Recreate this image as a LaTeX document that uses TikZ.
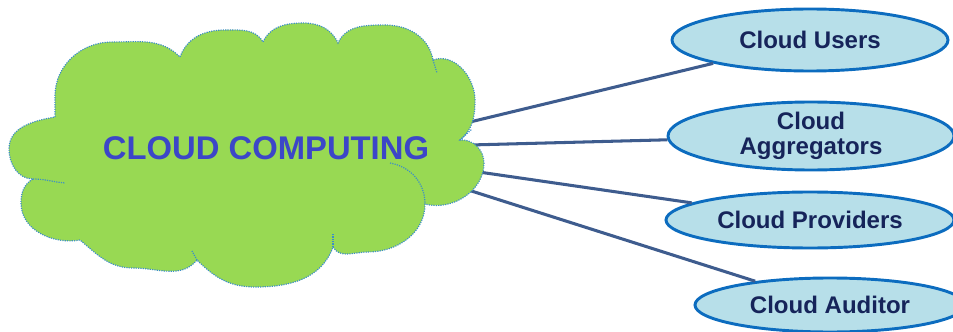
\documentclass[tikz,border=0pt]{standalone}
\usepackage{fontspec}
\setmainfont{Liberation Sans}
\usetikzlibrary{shapes.geometric}
\definecolor{cloudgreen}{HTML}{98D953}
\definecolor{cloudedge}{HTML}{3C8DC8}
\definecolor{cloudtext}{HTML}{3C46C8}
\definecolor{linkcol}{HTML}{3E5C8E}
\definecolor{ovalfill}{HTML}{B7DFE9}
\definecolor{ovaledge}{HTML}{0C6CBF}
\definecolor{ovaltext}{HTML}{16245A}
\tikzset{
  oval/.style={ellipse, draw=ovaledge, fill=ovalfill, line width=2.5pt, inner sep=0pt,
    text=ovaltext, font=\fontsize{20.5}{21}\selectfont\bfseries, align=center},
  link/.style={draw=linkcol, line width=2.6pt},
  cloudline/.style={draw=cloudedge, line width=1pt, densely dotted}
}
\begin{document}
\begin{tikzpicture}[x=0.03cm,y=0.03cm]
\useasboundingbox (0,0) rectangle (953,331);
% connector start points on the cloud edge
\coordinate (c1) at (470,209);
\coordinate (c2) at (470,186);
\coordinate (c3) at (465,161);
\coordinate (c4) at (462,143);
% ellipses (sizes in px * 0.03cm)
\node[oval, minimum width=8.28cm, minimum height=1.86cm] (u) at (810,291) {Cloud Users};
\node[oval, minimum width=8.58cm, minimum height=2.04cm] (ag) at (811,195) {Cloud\\Aggregators};
\node[oval, minimum width=8.64cm, minimum height=1.68cm] (p) at (810,111) {Cloud Providers};
\node[oval, minimum width=8.1cm, minimum height=1.62cm] (au) at (830,26) {Cloud Auditor};
% connectors
\draw[link] (c1) -- (u);
\draw[link] (c2) -- (ag);
\draw[link] (c3) -- (p);
\draw[link] (c4) -- (au);
% cloud
\path[fill=cloudgreen, cloudline]
 (55,214) -- (55,235) to[out=90,in=180] (112,289) to[out=0,in=135] (180,274)
 to[out=70,in=180] (225,301) to[out=0,in=120] (263,289)
 to[out=65,in=180] (303,308) to[out=0,in=115] (338,288)
 to[out=65,in=180] (385,306) to[out=0,in=100] (433,271)
 to[out=20,in=90] (475,231) to[out=-90,in=40] (460,191)
 to[out=5,in=90] (484,168) to[out=-90,in=-15] (425,127)
 to[out=-90,in=0] (368,79) to[out=180,in=-60] (333,84)
 to[out=-110,in=0] (255,44) to[out=180,in=-45] (197,71)
 to[out=-130,in=0] (133,63) to[out=180,in=-40] (80,91)
 to[out=190,in=-90] (21,128) to[out=90,in=210] (33,152)
 to[out=180,in=-90] (9,182) to[out=90,in=190] cycle;
\draw[cloudline] (390,168) to[out=-10,in=90] (425,127);
\draw[cloudline] (33,152) to[out=0,in=175] (65,148);
\draw[cloudline] (333,84) -- (333,97);
\draw[cloudline] (460,191) -- (472,202);
\draw[cloudline] (433,271) -- (437,258);
\draw[cloudline] (197,71) -- (192,80);
\node[text=cloudtext, font=\fontsize{28}{29}\selectfont\bfseries] (cc) at (266,183) {CLOUD COMPUTING};
\end{tikzpicture}
\end{document}
